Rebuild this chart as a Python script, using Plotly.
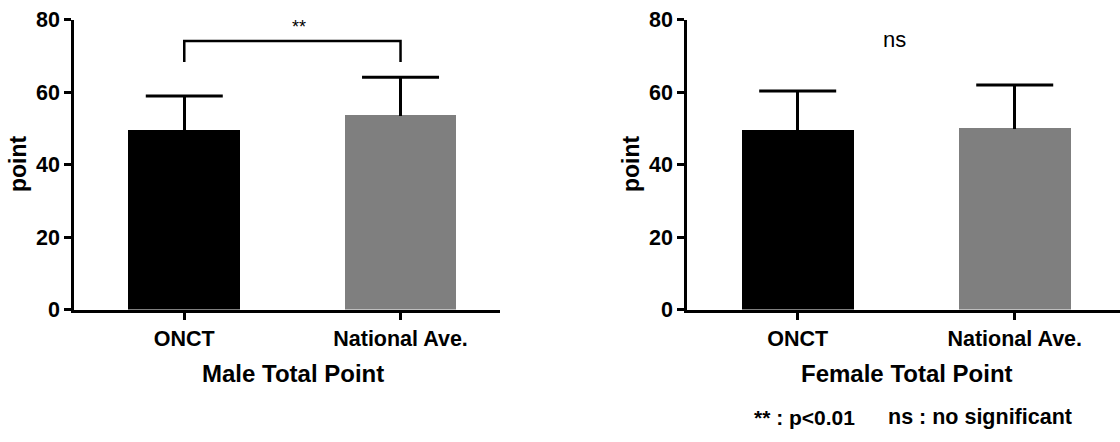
import plotly.graph_objects as go

# ---- data ----
categories = ["ONCT", "National Ave."]
male_mean = [49.6, 53.9]
male_sd = [9.3, 10.2]
female_mean = [49.6, 50.3]
female_sd = [10.7, 11.6]
bar_colors = ["#000000", "#7f7f7f"]
y_ticks = [0, 20, 40, 60, 80]
male_bracket_top = 74.1
male_bracket_foot = 68.3
male_sig = "**"
female_sig = "ns"

FONT = "Liberation Sans, Arial, Helvetica, sans-serif"
W, H = 1120, 442

fig = go.Figure()

def add_panel(means, sds, xa, ya):
    fig.add_trace(go.Bar(
        x=categories, y=means, marker=dict(color=bar_colors, line=dict(width=0)),
        width=0.516,
        error_y=dict(type="data", symmetric=False, array=sds, arrayminus=[0.6] * len(sds),
                     color="#000000", thickness=3, width=0),
        xaxis=xa, yaxis=ya, showlegend=False, hoverinfo="skip",
    ))
    # caps at the top of the error bars
    fig.add_trace(go.Scatter(
        x=categories, y=[m + s for m, s in zip(means, sds)], mode="markers",
        marker=dict(symbol="line-ew", size=55, line=dict(color="#000000", width=3)),
        xaxis=xa, yaxis=ya, showlegend=False, hoverinfo="skip",
    ))

add_panel(male_mean, male_sd, "x", "y")
add_panel(female_mean, female_sd, "x2", "y2")

# significance bracket for male panel
fig.add_trace(go.Scatter(
    x=[categories[0], categories[0], categories[1], categories[1]],
    y=[male_bracket_foot, male_bracket_top, male_bracket_top, male_bracket_foot],
    mode="lines", line=dict(color="#000000", width=2.5),
    xaxis="x", yaxis="y", showlegend=False, hoverinfo="skip",
))

ydom = [1 - 309.5 / H, 1 - 19.5 / H]
axis_common = dict(showline=True, linecolor="#000000", linewidth=2.5,
                   ticks="outside", tickcolor="#000000", tickwidth=2.5,
                   showgrid=False, zeroline=False, automargin=False)
tf = dict(size=21.5, family=FONT, weight="bold", color="#000000")

fig.update_layout(
    width=W, height=H,
    margin=dict(l=0, r=0, t=0, b=0),
    paper_bgcolor="white", plot_bgcolor="white",
    font=dict(family=FONT, color="#000000"),
    bargap=0,
    xaxis=dict(domain=[74 / W, 500 / W], range=[-0.51, 1.46], type="category",
               ticklen=8, tickfont=tf, **axis_common),
    yaxis=dict(domain=ydom, range=[0, 80], tickvals=y_ticks, ticklen=7,
               tickfont=tf, **axis_common),
    xaxis2=dict(domain=[687 / W, 1.0], range=[-0.51, 1.485], type="category",
                ticklen=8, tickfont=tf, anchor="y2", **axis_common),
    yaxis2=dict(domain=ydom, range=[0, 80], tickvals=y_ticks, ticklen=7, anchor="x2",
                tickfont=tf, **axis_common),
)

ann = []
# y axis titles
for xpx in (18, 631):
    ann.append(dict(text="<b>point</b>", x=xpx / W, y=1 - 164 / H, xref="paper", yref="paper",
                    textangle=-90, showarrow=False, font=dict(size=23, family=FONT),
                    xanchor="center", yanchor="middle"))
# x axis titles
ann.append(dict(text="<b>Male Total Point</b>", x=293 / W, y=1 - 373 / H, xref="paper", yref="paper",
                showarrow=False, font=dict(size=24, family=FONT), xanchor="center", yanchor="middle"))
ann.append(dict(text="<b>Female Total Point</b>", x=907 / W, y=1 - 373 / H, xref="paper", yref="paper",
                showarrow=False, font=dict(size=24, family=FONT), xanchor="center", yanchor="middle"))
# significance labels
ann.append(dict(text=male_sig, x=0.53, y=78.0, xref="x", yref="y", showarrow=False,
                font=dict(size=18, family=FONT), xanchor="center", yanchor="middle"))
ann.append(dict(text=female_sig, x=0.447, y=74.4, xref="x2", yref="y2", showarrow=False,
                font=dict(size=22, family=FONT), xanchor="center", yanchor="middle"))
# footnote
ann.append(dict(text="<b>** : p&lt;0.01</b>", x=752 / W, y=1 - 417 / H, xref="paper", yref="paper",
                showarrow=False, font=dict(size=21, family=FONT), xanchor="left", yanchor="middle"))
ann.append(dict(text="<b>ns : no significant</b>", x=886 / W, y=1 - 417 / H, xref="paper", yref="paper",
                showarrow=False, font=dict(size=21.5, family=FONT), xanchor="left", yanchor="middle"))
fig.update_layout(annotations=ann)

fig.write_html("out.html", config={"displayModeBar": False},
               post_script="document.body.style.margin='0';")
